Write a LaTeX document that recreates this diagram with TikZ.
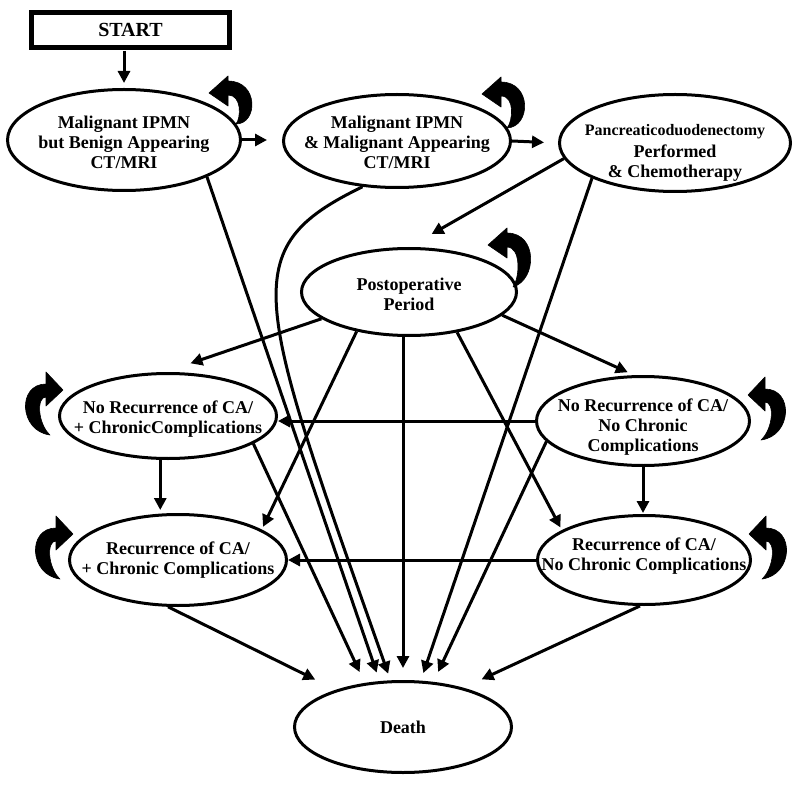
\documentclass[tikz,border=0pt]{standalone}
\usepackage{fontspec}
\setmainfont{Liberation Serif}
\usetikzlibrary{arrows.meta,calc,shapes.geometric}
\newcommand\etext[2][0pt]{\makebox[0pt]{\raisebox{#1}[\height][\depth]{\begin{tabular}{@{}c@{}}#2\end{tabular}}}}
\begin{document}
\begin{tikzpicture}[x=1pt,y=-1pt,
  every node/.style={font=\fontsize{18}{20}\selectfont\bfseries},
  st/.style={ellipse, draw, line width=3pt, inner sep=0pt},
  edge/.style={line width=3pt, -{Triangle[length=12pt,width=12pt]}},
  loopfill/.style={fill=black, draw=black, line width=0.6pt, line join=round}
]
\useasboundingbox (0,0) rectangle (800,786);
\fill[white] (0,0) rectangle (800,786);

\node[draw, line width=5pt, minimum width=198pt, minimum height=35pt, inner sep=0pt,
      font=\fontsize{20}{22}\selectfont\bfseries] (start) at (130.5,30) {START};

\node[st, minimum width=233pt, minimum height=101pt] (mbe) at (124,140)
  {\etext[-5pt]{Malignant IPMN\\but Benign Appearing\\CT/MRI}};
\node[st, minimum width=227pt, minimum height=93pt] (mme) at (397,141)
  {\etext[-4pt]{Malignant IPMN\\\& Malignant Appearing\\CT/MRI}};
\node[st, minimum width=231pt, minimum height=97pt] (pdc) at (675,143)
  {\etext[-10pt]{{\fontsize{16}{20}\selectfont Pancreaticoduodenectomy}\\[2pt]Performed\\\& Chemotherapy}};
\node[st, minimum width=215pt, minimum height=87pt] (post) at (409,292)
  {\etext[-4pt]{Postoperative\\Period}};
\node[st, minimum width=217pt, minimum height=85pt] (nrc) at (168,416)
  {\etext[-3pt]{No Recurrence of CA/\\+ ChronicComplications}};
\node[st, minimum width=213pt, minimum height=89pt] (nrn) at (643,421)
  {\etext[-6pt]{No Recurrence of CA/\\No Chronic\\Complications}};
\node[st, minimum width=217pt, minimum height=91pt] (rc) at (178,560)
  {\etext{Recurrence of CA/\\+ Chronic Complications}};
\node[st, minimum width=213pt, minimum height=89pt] (rn) at (644,560)
  {\etext[4pt]{Recurrence of CA/\\No Chronic Complications}};
\node[st, minimum width=217pt, minimum height=91pt] (death) at (403,727)
  {\etext[-2pt]{Death}};

% main flow
\draw[edge, shorten <=1pt, shorten >=5pt] (start.south -| mbe.north) -- (mbe.north);
\draw[edge, shorten >=15pt] (mbe.east) -- (mbe.east -| mme.west);
\draw[edge, shorten >=14pt] (mme.east) -- (pdc.west);
\draw[edge, shorten >=26pt] (pdc.-172) -- (post.north);

% to death
\draw[edge, shorten >=9pt] (mbe.-24) -- (death.117);
\draw[edge, shorten >=7pt] (mme.-127) .. controls (234,249) and (255,296) .. (death.105);
\draw[edge, shorten >=8pt] (pdc.-157) -- (death.69);
\draw[edge, shorten >=12pt] (post.south -| death.north) -- (death.north);
\draw[edge, shorten >=12pt] (nrc.-18) -- (death.131);
\draw[edge, shorten >=11pt] (nrn.-168) -- (death.56);
\draw[edge, shorten >=23pt] (rc.-102) -- (death.151);
\draw[edge, shorten >=20pt] (rn.-95) -- (death.33);

% from postoperative period
\draw[edge, shorten >=27pt] (post.-163) -- (nrc.94);
\draw[edge, shorten >=7pt] (post.-14) -- (nrn.101);
\draw[edge, shorten >=3pt] (post.-143) -- (rc.20);
\draw[edge, shorten >=3pt] (post.-40) -- (rn.160);

% between health states
\draw[edge] (nrn.west) -- (nrc.east |- nrn.west);
\draw[edge] (rn.west) -- (rc.east |- rn.west);
\draw[edge, shorten >=3pt] (nrc.-100) -- (nrc.-100 |- rc.north);
\draw[edge, shorten >=1pt] (nrn.south) -- (nrn.south |- rn.north);

% self loops (top)
\begin{scope}[shift={(mbe.center)}]
\fill[loopfill] (112,-16) .. controls (134,-16) and (135,-59) .. (104,-59)
  -- (104,-64) -- (85,-47) -- (104,-34) -- (104,-45)
  .. controls (118,-45) and (117,-22) .. cycle;
\end{scope}
\begin{scope}[shift={(mme.center)}]
\fill[loopfill] (110,-13) .. controls (134,-14) and (135,-59) .. (104,-59)
  -- (104,-64) -- (85,-47) -- (104,-34) -- (104,-45)
  .. controls (118,-45) and (116,-20) .. cycle;
\end{scope}
\begin{scope}[shift={(post.center)}]
\fill[loopfill] (104,-5) .. controls (128,-12) and (129,-59) .. (98,-59)
  -- (98,-64) -- (79,-47) -- (98,-34) -- (98,-45)
  .. controls (112,-45) and (111,-15) .. cycle;
\end{scope}
% self loops (sides)
\begin{scope}[shift={(nrn.center)}]
\fill[loopfill] (118,19) .. controls (149,15) and (151,-32) .. (122,-32)
  -- (122,-44) -- (105,-26) -- (122,-10) -- (122,-19)
  .. controls (132,-19) and (130,8) .. cycle;
\end{scope}
\begin{scope}[shift={(rn.center)}]
\fill[loopfill] (118,19) .. controls (149,15) and (151,-32) .. (122,-32)
  -- (122,-44) -- (105,-26) -- (122,-10) -- (122,-19)
  .. controls (132,-19) and (130,8) .. cycle;
\end{scope}
\begin{scope}[shift={(nrc.center)}, xscale=-1]
\fill[loopfill] (118,19) .. controls (149,15) and (151,-32) .. (122,-32)
  -- (122,-44) -- (105,-26) -- (122,-10) -- (122,-19)
  .. controls (132,-19) and (130,8) .. cycle;
\end{scope}
\begin{scope}[shift={(rc.center)}, xscale=-1]
\fill[loopfill] (118,19) .. controls (149,15) and (151,-32) .. (122,-32)
  -- (122,-44) -- (105,-26) -- (122,-10) -- (122,-19)
  .. controls (132,-19) and (130,8) .. cycle;
\end{scope}
\end{tikzpicture}
\end{document}
